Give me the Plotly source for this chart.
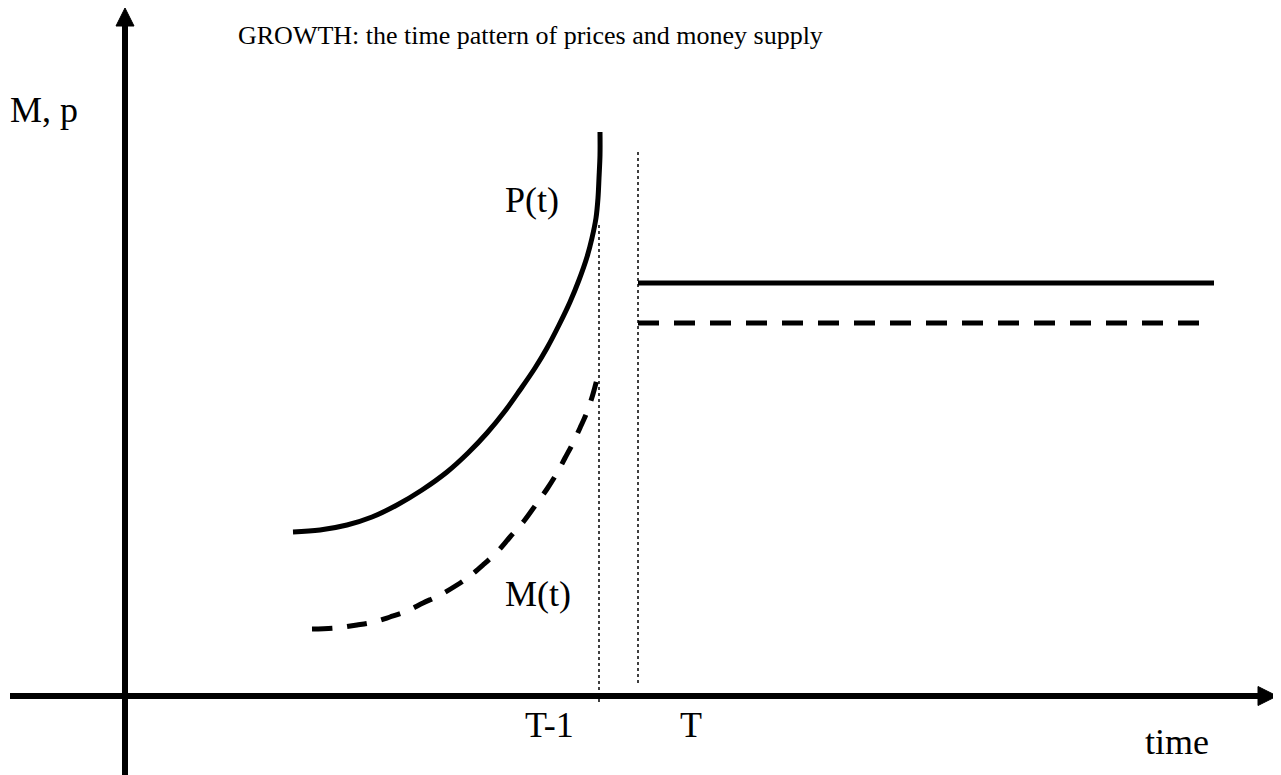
import plotly.graph_objects as go

# ---- data (time units on x, level units on y; origin at axes crossing) ----
# P(t): price level path up to T-1
p_time = [168, 195, 222, 247, 272, 297, 322, 343, 362, 380, 395, 410, 422, 434,
          445, 454, 462, 467, 471, 473, 474, 475, 475]
p_level = [164, 166, 171, 179, 191, 206, 224, 243, 263, 285, 306, 328, 348, 371,
           394, 416, 439, 458, 478, 498, 518, 541, 564]
# M(t): money supply path up to T-1
m_time = [187, 210, 232, 249, 265, 282, 298, 315, 332, 345, 358, 372, 385, 399,
          412, 422, 432, 440, 448, 455, 462, 468, 473]
m_level = [67, 68, 71, 74, 79, 85, 93, 101, 111, 120, 131, 144, 159, 175,
           193, 207, 223, 238, 253, 268, 284, 302, 321]
# after stabilisation at T
post_time = [513, 1089]
p_post = [413, 413]
m_post = [373, 373]
# reference dates
t_minus_1 = 474
t_T = 513
tick_labels = ["T-1", "T"]

FONT = "Liberation Serif"
fig = go.Figure()

# curves
fig.add_trace(go.Scatter(x=p_time, y=p_level, mode="lines",
                         line=dict(color="black", width=5, shape="spline", smoothing=1.0),
                         hoverinfo="skip", showlegend=False))
fig.add_trace(go.Scatter(x=m_time, y=m_level, mode="lines",
                         line=dict(color="black", width=5, shape="spline", smoothing=1.0,
                                   dash="20px,15px"),
                         hoverinfo="skip", showlegend=False))
fig.add_trace(go.Scatter(x=post_time, y=p_post, mode="lines",
                         line=dict(color="black", width=5),
                         hoverinfo="skip", showlegend=False))
fig.add_trace(go.Scatter(x=post_time, y=m_post, mode="lines",
                         line=dict(color="black", width=5, dash="21px,15px"),
                         hoverinfo="skip", showlegend=False))

# dotted verticals at T-1 and T
fig.add_trace(go.Scatter(x=[t_minus_1, t_minus_1], y=[-6, 471], mode="lines",
                         line=dict(color="black", width=1.5, dash="dot"),
                         hoverinfo="skip", showlegend=False))
fig.add_trace(go.Scatter(x=[t_T, t_T], y=[13, 547], mode="lines",
                         line=dict(color="black", width=1.5, dash="dot"),
                         hoverinfo="skip", showlegend=False))

# axes with arrow heads
shapes = [
    dict(type="line", xref="x", yref="y", x0=0, x1=0, y0=-95, y1=672,
         line=dict(color="black", width=6)),
    dict(type="line", xref="x", yref="y", x0=-115, x1=1137, y0=0, y1=0,
         line=dict(color="black", width=6)),
    dict(type="path", xref="x", yref="y", path="M -9 670 L 9 670 L 0 688 Z",
         fillcolor="black", line=dict(color="black", width=1)),
    dict(type="path", xref="x", yref="y", path="M 1133 -9.5 L 1133 9.5 L 1152 0 Z",
         fillcolor="black", line=dict(color="black", width=1)),
]

def txt(x, y, s, size, xanchor="left", yanchor="middle"):
    return dict(x=x, y=y, xref="x", yref="y", text=s, showarrow=False,
                xanchor=xanchor, yanchor=yanchor,
                font=dict(family=FONT, size=size, color="black"))

annotations = [
    txt(111, 661, "GROWTH: the time pattern of prices and money supply", 26),
    txt(-117, 586, "M, p", 36),
    txt(378, 496, "P(t)", 36),
    txt(378, 102, "M(t)", 36),
    txt(t_minus_1 - 23, -29, tick_labels[0], 36, xanchor="right"),
    txt(t_T + 40, -29, tick_labels[1], 36),
    txt(1018, -46, "time", 36),
]

fig.update_layout(
    width=1281, height=775,
    margin=dict(l=0, r=0, t=0, b=0),
    paper_bgcolor="white", plot_bgcolor="white",
    xaxis=dict(range=[-117, 1164], visible=False, fixedrange=True),
    yaxis=dict(range=[-87, 688], visible=False, fixedrange=True),
    shapes=shapes, annotations=annotations,
)

fig.write_html("out.html")
